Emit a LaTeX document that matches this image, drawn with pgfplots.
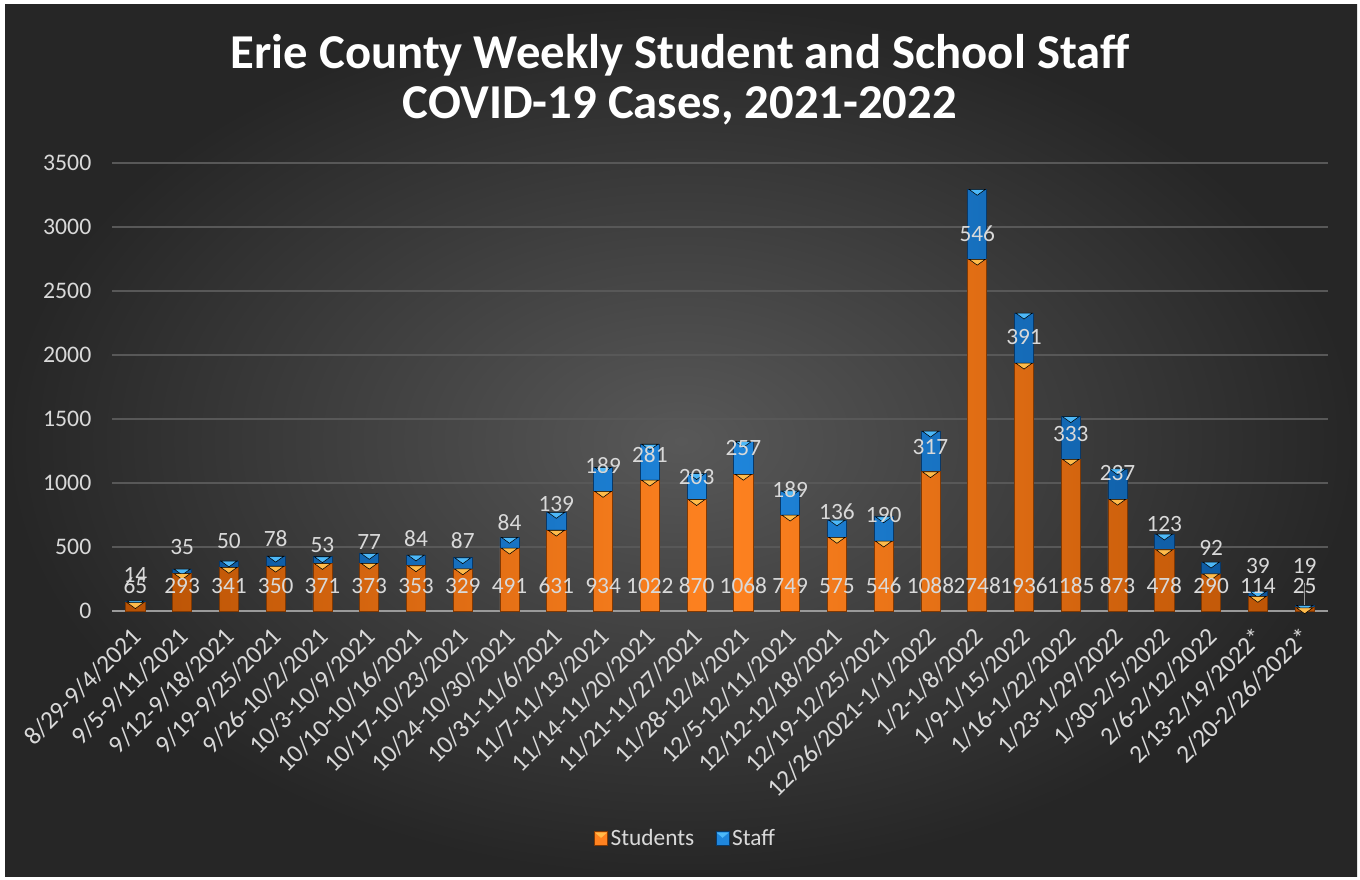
\documentclass[border=0pt]{standalone}
\usepackage{pgfplots}
\pgfplotsset{compat=1.18}
\usepackage{pgfplotstable}
\usepackage{fontspec}
\setmainfont{Carlito}
\definecolor{bgin}{HTML}{585858}
\definecolor{bgout}{HTML}{262626}
\definecolor{txt}{HTML}{D9D9D9}
\definecolor{gridc}{HTML}{585858}
\definecolor{axc}{HTML}{9A9A9A}
\definecolor{orgmid}{HTML}{FF8220}
\definecolor{orgedge}{HTML}{B85204}
\definecolor{orgtri}{HTML}{FFBB4A}
\definecolor{blumid}{HTML}{1F86DC}
\definecolor{bluedge}{HTML}{0B5296}
\definecolor{blutri}{HTML}{4DB8F8}

\pgfplotstableread{
x lab stu stf tot suy sly
0 8/29-9/4/2021 65 14 79 195 281
1 9/5-9/11/2021 293 35 328 195 500
2 9/12-9/18/2021 341 50 391 195 547
3 9/19-9/25/2021 350 78 428 195 562
4 9/26-10/2/2021 371 53 424 195 516
5 10/3-10/9/2021 373 77 450 195 539
6 10/10-10/16/2021 353 84 437 195 562
7 10/17-10/23/2021 329 87 416 195 547
8 10/24-10/30/2021 491 84 575 195 687
9 10/31-11/6/2021 631 139 770 195 836
10 11/7-11/13/2021 934 189 1123 195 1133
11 11/14-11/20/2021 1022 281 1303 195 1219
12 11/21-11/27/2021 870 203 1073 195 1047
13 11/28-12/4/2021 1068 257 1325 195 1273
14 12/5-12/11/2021 749 189 938 195 945
15 12/12-12/18/2021 575 136 711 195 773
16 12/19-12/25/2021 546 190 736 195 750
17 12/26/2021-1/1/2022 1088 317 1405 195 1281
18 1/2-1/8/2022 2748 546 3294 195 2945
19 1/9-1/15/2022 1936 391 2327 195 2141
20 1/16-1/22/2022 1185 333 1518 195 1383
21 1/23-1/29/2022 873 237 1110 195 1078
22 1/30-2/5/2022 478 123 601 195 680
23 2/6-2/12/2022 290 92 382 195 492
24 2/13-2/19/2022* 114 39 153 195 352
25 2/20-2/26/2022* 25 19 44 195 352
}\data

\begin{document}
\begin{tikzpicture}[x=0.75pt,y=0.75pt]
\fill[white] (0,0) rectangle (1360,880);
\shade[inner color=bgin, outer color=bgout] (5,3) rectangle (1357,875);
% title
\node[text=white, font=\fontsize{36.5}{37.5}\bfseries\selectfont, align=center] at (680,800) {Erie County Weekly Student and School Staff\\COVID-19 Cases, 2021-2022};
\begin{axis}[
  at={(84pt,201.75pt)}, anchor=south west,
  width=912pt, height=336pt, scale only axis,
  xmin=-0.5, xmax=25.5, ymin=0, ymax=3500,
  ytick={0,500,...,3500},
  xtick=data,
  xticklabels from table={\data}{lab},
  major tick length=0pt,
  ymajorgrids, grid style={gridc, line width=1.3pt},
  axis x line*=bottom, axis y line*=left,
  x axis line style={axc, line width=2pt, -},
  y axis line style={draw=none},
  /pgf/number format/assume math mode=true,
  /pgf/number format/1000 sep={},
  scaled y ticks=false,
  tick label style={font=\fontsize{17.8}{20}\selectfont, text=txt},
  yticklabel style={xshift=-12pt},
  xticklabel style={font=\fontsize{19}{20}\selectfont, xshift=-4pt, yshift=-11pt, rotate=45, anchor=north east, inner sep=0pt},
  clip=false,
  legend style={at={(0.472,-0.507)}, anchor=center, legend columns=2, draw=none, fill=none,
    text=txt, font=\fontsize{17.5}{20}\selectfont,
    /tikz/every even column/.append style={column sep=14pt}},
]
\addplot[ybar, bar width=0.41, bar shift=0pt, draw=bluedge!70!black, line width=0.5pt, left color=bluedge, right color=bluedge, middle color=blumid, forget plot] table[x=x, y=tot] {\data};
\addplot[ybar, bar width=0.41, bar shift=0pt, draw=orgedge!70!black, line width=0.5pt, left color=orgedge, right color=orgedge, middle color=orgmid, forget plot] table[x=x, y=stu] {\data};
% bevel triangles at the top of each segment
\addplot[only marks, mark=triangle*, mark size=7pt, forget plot,
  mark options={yshift=-1.5pt, rotate=180, yscale=0.42, fill=blutri, draw=none}] table[x=x, y=tot] {\data};
\addplot[only marks, mark=triangle*, mark size=7pt, forget plot,
  mark options={yshift=-1.5pt, rotate=180, yscale=0.42, fill=orgtri, draw=none}] table[x=x, y=stu] {\data};
\addplot[axc, line width=0.8pt, forget plot] coordinates {(25,47) (25,219)};
\addplot[draw=none, mark=none, nodes near coords, point meta=explicit symbolic,
  every node near coord/.append style={anchor=center, text=txt, font=\fontsize{17.5}{20}\selectfont, inner sep=0pt}, forget plot]
  table[x=x, y=suy, meta=stu] {\data};
\addplot[draw=none, mark=none, nodes near coords, point meta=explicit symbolic,
  every node near coord/.append style={anchor=center, text=txt, font=\fontsize{17.5}{20}\selectfont, inner sep=0pt}, forget plot]
  table[x=x, y=sly, meta=stf] {\data};
\addlegendimage{legend image code/.code={\fill[orgmid, draw=orgedge!70!black] (0pt,-5pt) rectangle (10pt,5pt); \fill[orgtri] (1pt,4pt) -- (9pt,4pt) -- (5pt,0.5pt) -- cycle;}}
\addlegendentry{Students}
\addlegendimage{legend image code/.code={\fill[blumid, draw=bluedge!70!black] (0pt,-5pt) rectangle (10pt,5pt); \fill[blutri] (1pt,4pt) -- (9pt,4pt) -- (5pt,0.5pt) -- cycle;}}
\addlegendentry{Staff}
\end{axis}
\end{tikzpicture}
\end{document}
